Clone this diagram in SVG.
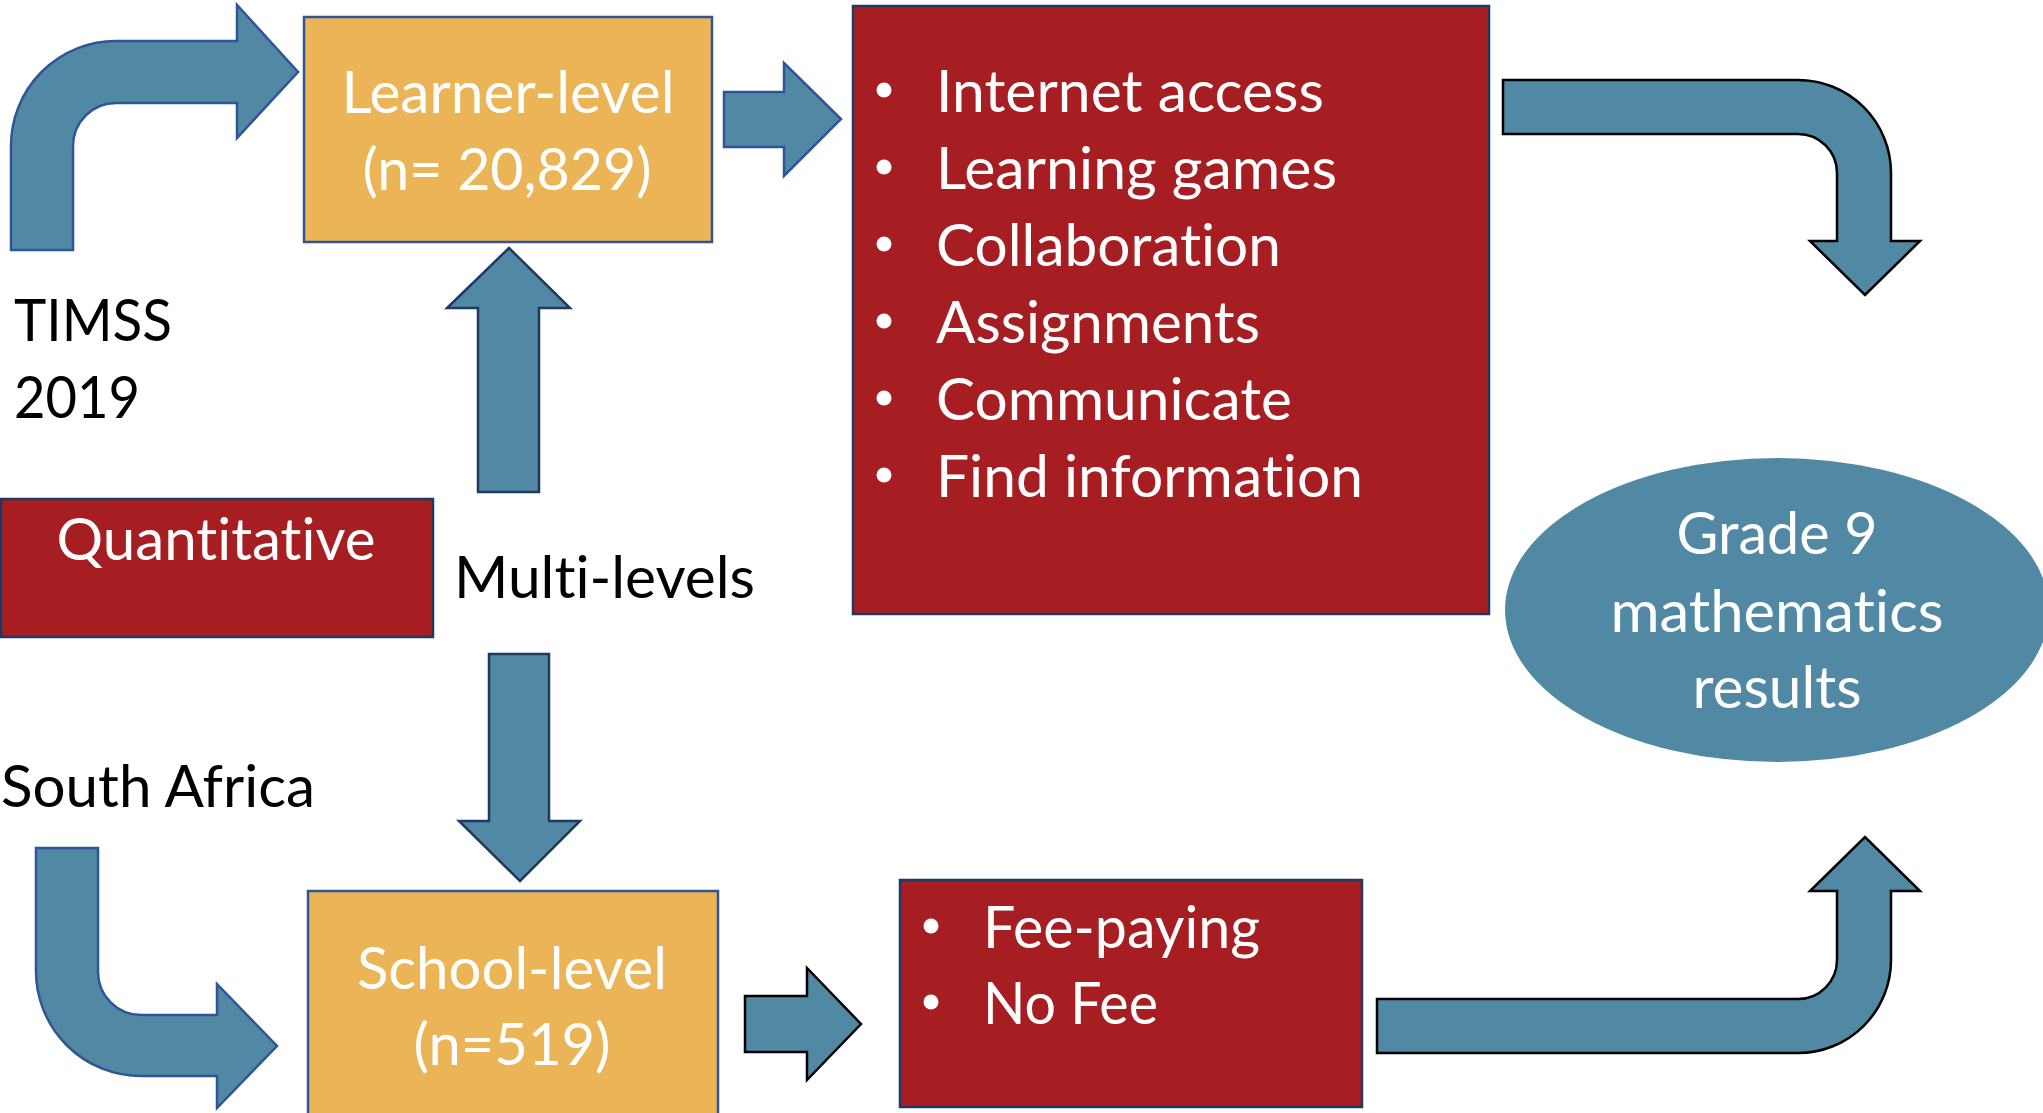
<svg xmlns="http://www.w3.org/2000/svg" width="2043" height="1113" viewBox="0 0 2043 1113">
<style>
.arrow{fill:#5189A5;stroke-width:2.5;stroke-linejoin:miter}
.sb{stroke:#2F5597}
.sn{stroke:#1F3864}
.sk{stroke:#000}
.orange{fill:#EBB457;stroke:#2F5597;stroke-width:2.5}
.red{fill:#A61E22;stroke:#1F3864;stroke-width:2.5}
.wt,.bt{font-family:Lato,"Open Sans","Liberation Sans",sans-serif;font-size:58px;font-variant-ligatures:none;font-feature-settings:"liga" 0,"clig" 0}
.wt{fill:#fff}
.bt{fill:#000}
.mid{text-anchor:middle}
.dot{fill:#fff}
</style>
<rect width="2043" height="1113" fill="#fff"/>
<g id="connectors">
  <path class="arrow sb" d="M 11 250 L 11 146 A 105 105 0 0 1 116 41 L 237 41 L 237 5 L 298 72 L 237 138 L 237 103 L 116 103 A 43 43 0 0 0 73 146 L 73 250 Z"/>
  <path class="arrow sb" d="M 36 848 L 98 848 L 98 972 A 43 43 0 0 0 141 1015 L 217 1015 L 217 984 L 277 1046 L 217 1108 L 217 1076 L 141 1076 A 105 105 0 0 1 36 971 Z"/>
  <path class="arrow sn" d="M 478 492 L 478 308 L 447 308 L 509 248 L 570 308 L 539 308 L 539 492 Z"/>
  <path class="arrow sn" d="M 489 654 L 549 654 L 549 821 L 580 821 L 520 881 L 459 821 L 489 821 Z"/>
  <path class="arrow sb" d="M 724 92 L 784 92 L 784 63 L 841 119 L 784 176 L 784 147 L 724 147 Z"/>
  <path class="arrow sk" d="M 745 996 L 807 996 L 807 968 L 861 1024 L 807 1080 L 807 1052 L 745 1052 Z"/>
  <path class="arrow sk" d="M 1503 80 L 1798 80 A 93 93 0 0 1 1891 173 L 1891 241 L 1920 241 L 1865 295 L 1810 241 L 1837 241 L 1837 173 A 39 39 0 0 0 1798 134 L 1503 134 Z"/>
  <path class="arrow sk" d="M 1377 999 L 1798 999 A 39 39 0 0 0 1837 960 L 1837 891 L 1810 891 L 1865 837 L 1920 891 L 1891 891 L 1891 960 A 93 93 0 0 1 1798 1053 L 1377 1053 Z"/>
</g>
<g id="learner-level">
  <rect class="orange" x="304" y="17" width="408" height="225"/>
  <text class="wt mid" x="508" y="113" textLength="333" lengthAdjust="spacingAndGlyphs">Learner-level</text>
  <text class="wt mid" x="507" y="190" textLength="289" lengthAdjust="spacingAndGlyphs">(n= 20,829)</text>
</g>
<g id="timss">
  <text class="bt" x="14" y="341" textLength="158" lengthAdjust="spacingAndGlyphs">TIMSS</text>
  <text class="bt" x="14" y="418" textLength="126" lengthAdjust="spacingAndGlyphs">2019</text>
</g>
<g id="quantitative">
  <rect class="red" x="1" y="499" width="432" height="138"/>
  <text class="wt mid" x="216" y="560" textLength="319" lengthAdjust="spacingAndGlyphs">Quantitative</text>
</g>
<g id="multi-levels">
  <text class="bt" x="454" y="598" textLength="301" lengthAdjust="spacingAndGlyphs">Multi-levels</text>
</g>
<g id="south-africa">
  <text class="bt" x="1" y="807" textLength="314" lengthAdjust="spacingAndGlyphs">South Africa</text>
</g>
<g id="school-level">
  <rect class="orange" x="308" y="891" width="410" height="240"/>
  <text class="wt mid" x="512" y="989" textLength="310" lengthAdjust="spacingAndGlyphs">School-level</text>
  <text class="wt mid" x="512" y="1065" textLength="197" lengthAdjust="spacingAndGlyphs">(n=519)</text>
</g>
<g id="learner-factors">
  <rect class="red" x="853" y="6" width="636" height="608"/>
  <circle class="dot" cx="884" cy="90" r="7.5"/>
  <circle class="dot" cx="884" cy="167" r="7.5"/>
  <circle class="dot" cx="884" cy="244" r="7.5"/>
  <circle class="dot" cx="884" cy="321" r="7.5"/>
  <circle class="dot" cx="884" cy="398" r="7.5"/>
  <circle class="dot" cx="884" cy="475" r="7.5"/>
  <text class="wt" x="936" y="112" textLength="388" lengthAdjust="spacingAndGlyphs">Internet access</text>
  <text class="wt" x="936" y="189" textLength="401" lengthAdjust="spacingAndGlyphs">Learning games</text>
  <text class="wt" x="936" y="266" textLength="345" lengthAdjust="spacingAndGlyphs">Collaboration</text>
  <text class="wt" x="936" y="343" textLength="324" lengthAdjust="spacingAndGlyphs">Assignments</text>
  <text class="wt" x="936" y="420" textLength="356" lengthAdjust="spacingAndGlyphs">Communicate</text>
  <text class="wt" x="936" y="497" textLength="427" lengthAdjust="spacingAndGlyphs">Find information</text>
</g>
<g id="school-factors">
  <rect class="red" x="900" y="880" width="462" height="227"/>
  <circle class="dot" cx="931" cy="926" r="7.5"/>
  <circle class="dot" cx="931" cy="1002" r="7.5"/>
  <text class="wt" x="983" y="948" textLength="277" lengthAdjust="spacingAndGlyphs">Fee-paying</text>
  <text class="wt" x="983" y="1024" textLength="175" lengthAdjust="spacingAndGlyphs">No Fee</text>
</g>
<g id="outcome">
  <ellipse cx="1777" cy="610" rx="272" ry="152" fill="#5189A5"/>
  <text class="wt mid" x="1777" y="554" textLength="201" lengthAdjust="spacingAndGlyphs">Grade 9</text>
  <text class="wt mid" x="1777" y="632" textLength="333" lengthAdjust="spacingAndGlyphs">mathematics</text>
  <text class="wt mid" x="1777" y="708" textLength="169" lengthAdjust="spacingAndGlyphs">results</text>
</g>
</svg>
